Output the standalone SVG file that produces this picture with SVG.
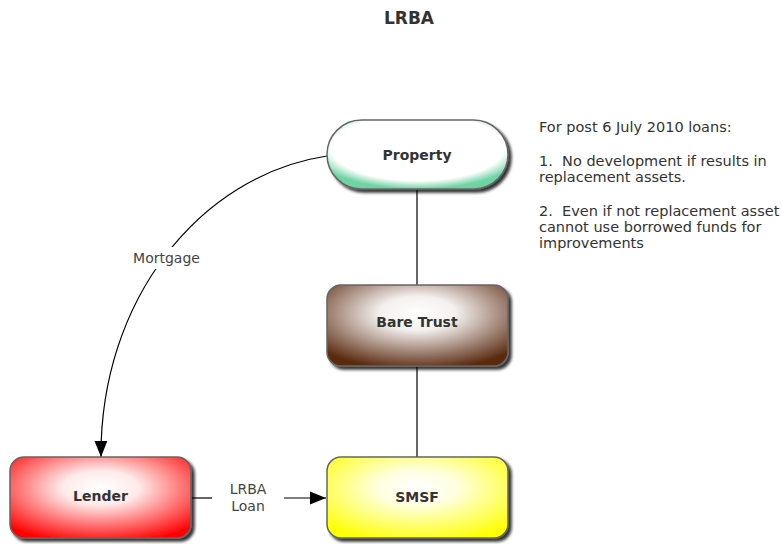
<svg xmlns="http://www.w3.org/2000/svg" width="782" height="544" viewBox="0 0 782 544">
<style>
.title{font-family:"DejaVu Sans",Verdana,sans-serif;font-size:17px;font-weight:bold;fill:#333;text-anchor:middle}
.node-label{font-family:"DejaVu Sans",Verdana,sans-serif;font-size:14px;font-weight:bold;fill:#333;text-anchor:middle}
.edge-label{font-family:"DejaVu Sans",Verdana,sans-serif;font-size:14px;fill:#444;text-anchor:middle}
.note{font-family:"DejaVu Sans",Verdana,sans-serif;font-size:14.5px;fill:#333}
.edge{fill:none;stroke:#000;stroke-width:1.2}
.box{stroke:#666;stroke-width:1.5}
</style>
<defs>
<filter id="shadow" x="-10%" y="-10%" width="130%" height="140%">
<feGaussianBlur in="SourceAlpha" stdDeviation="1.5"/>
<feOffset dx="3" dy="3" result="b"/>
<feComponentTransfer><feFuncA type="linear" slope="0.8"/></feComponentTransfer>
<feMerge><feMergeNode/><feMergeNode in="SourceGraphic"/></feMerge>
</filter>
<radialGradient id="gGreen" cx="50%" cy="40%" r="60%">
<stop offset="0.8" stop-color="#ffffff"/><stop offset="1" stop-color="#6fd3a4"/>
</radialGradient>
<radialGradient id="gBrown" cx="50%" cy="35%" r="70%">
<stop offset="0" stop-color="#ffffff"/><stop offset="0.3" stop-color="#f4f0ee"/><stop offset="1" stop-color="#5a2a10"/>
</radialGradient>
<radialGradient id="gRed" cx="50%" cy="38%" r="70%">
<stop offset="0" stop-color="#ffffff"/><stop offset="0.3" stop-color="#ffeaea"/><stop offset="1" stop-color="#ff0000"/>
</radialGradient>
<radialGradient id="gYellow" cx="50%" cy="38%" r="70%">
<stop offset="0" stop-color="#ffffff"/><stop offset="0.3" stop-color="#ffffe2"/><stop offset="1" stop-color="#ffff00"/>
</radialGradient>
<marker id="arrowBig" viewBox="0 0 10 10" refX="10" refY="5" markerWidth="16" markerHeight="16" markerUnits="userSpaceOnUse" orient="auto">
<path d="M0,1 L10,5 L0,9 z" fill="#000"/>
</marker>
</defs>
<rect width="782" height="544" fill="#fff"/>
<text class="title" x="409" y="24">LRBA</text>

<g id="connectors">
<line class="edge" x1="417" y1="190" x2="417" y2="285"/>
<line class="edge" x1="417" y1="367" x2="417" y2="457"/>
<path class="edge" d="M327,156 C200,175 100,300 101,457" marker-end="url(#arrowBig)"/>
<rect x="130" y="247" width="73" height="22" fill="#fff"/>
<text class="edge-label" x="166.5" y="263">Mortgage</text>
<line class="edge" x1="191" y1="498" x2="212" y2="498"/>
<line class="edge" x1="284" y1="498" x2="326" y2="498" marker-end="url(#arrowBig)"/>
<text class="edge-label" x="248" y="494">LRBA</text>
<text class="edge-label" x="248" y="511">Loan</text>
</g>

<g id="property">
<rect class="box" x="327" y="120" width="181" height="69" rx="34.5" fill="url(#gGreen)" filter="url(#shadow)"/>
<text class="node-label" x="417" y="160">Property</text>
</g>
<g id="bare-trust">
<rect class="box" x="327" y="285" width="181" height="81" rx="14" fill="url(#gBrown)" filter="url(#shadow)"/>
<text class="node-label" x="417" y="327">Bare Trust</text>
</g>
<g id="lender">
<rect class="box" x="10" y="457" width="181" height="81" rx="14" fill="url(#gRed)" filter="url(#shadow)"/>
<text class="node-label" x="100.5" y="501">Lender</text>
</g>
<g id="smsf">
<rect class="box" x="327" y="457" width="181" height="81" rx="14" fill="url(#gYellow)" filter="url(#shadow)"/>
<text class="node-label" x="417" y="502">SMSF</text>
</g>

<g id="note">
<text class="note" x="539" y="132">For post 6 July 2010 loans:</text>
<text class="note" x="539" y="166" xml:space="preserve">1.  No development if results in</text>
<text class="note" x="539" y="182">replacement assets.</text>
<text class="note" x="539" y="216" xml:space="preserve">2.  Even if not replacement asset</text>
<text class="note" x="539" y="232">cannot use borrowed funds for</text>
<text class="note" x="539" y="248">improvements</text>
</g>
</svg>
